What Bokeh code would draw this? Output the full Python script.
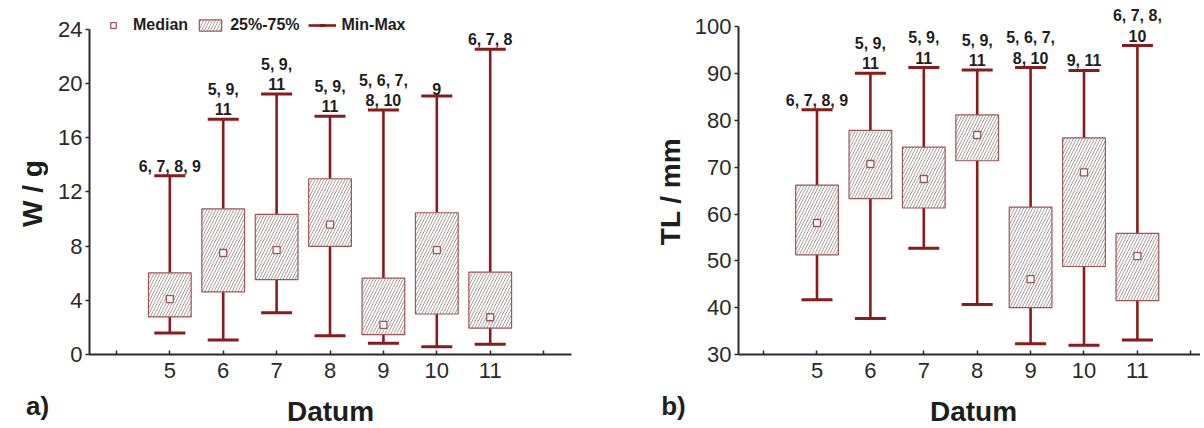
import math
from bokeh.plotting import figure
from bokeh.layouts import row, column
from bokeh.models import (ColumnDataSource, FixedTicker, Label, Legend, LegendItem,
                          Range1d)
from bokeh.core.properties import value
from bokeh.embed import file_html
from bokeh.resources import INLINE

# ---------------- data ----------------
datum = [5, 6, 7, 8, 9, 10, 11]
x_ticks = [4, 5, 6, 7, 8, 9, 10, 11, 12]

w_min = [1.58, 1.07, 3.09, 1.39, 0.83, 0.58, 0.75]
w_q1 = [2.77, 4.62, 5.52, 7.98, 1.46, 2.99, 1.95]
w_median = [4.09, 7.49, 7.71, 9.59, 2.19, 7.71, 2.75]
w_q3 = [6.03, 10.75, 10.34, 12.97, 5.64, 10.46, 6.08]
w_max = [13.19, 17.37, 19.22, 17.59, 18.05, 19.08, 22.53]
w_groups = ["6, 7, 8, 9", "5, 9,\n11", "5, 9,\n11", "5, 9,\n11",
            "5, 6, 7,\n8, 10", "9", "6, 7, 8"]
w_ticks = [0, 4, 8, 12, 16, 20, 24]

tl_min = [41.7, 37.7, 52.7, 40.7, 32.3, 32.0, 33.1]
tl_q1 = [51.3, 63.3, 61.3, 71.4, 40.0, 48.8, 41.5]
tl_median = [58.1, 70.7, 67.5, 76.9, 46.1, 68.9, 51.0]
tl_q3 = [66.2, 77.9, 74.3, 81.2, 61.5, 76.3, 55.9]
tl_max = [82.3, 90.1, 91.3, 90.8, 91.3, 90.7, 96.0]
tl_groups = ["6, 7, 8, 9", "5, 9,\n11", "5, 9,\n11", "5, 9,\n11",
             "5, 6, 7,\n8, 10", "9, 11", "6, 7, 8,\n10"]
tl_ticks = [30, 40, 50, 60, 70, 80, 90, 100]

# ---------------- style ----------------
FONT = "Liberation Sans"
WHISK = "#8B1A1A"
BOX_LINE = "#A05555"
HATCH = "#A09292"
TXT = "#1E1E1E"
AX = "#2A2A2A"
H = 390
TOP = 2
BOTTOM = 36
FRAME_H = H - TOP - BOTTOM
STRIP_H = 38
BOX_W = 0.8
CAP_PX = 31
PX_PER_X = 53.4


def blank(width, height, top, bottom):
    s = figure(width=width, height=height, output_backend="svg",
               toolbar_location=None, x_axis_type=None, y_axis_type=None,
               min_border_left=0, min_border_right=0, min_border_top=top,
               min_border_bottom=bottom, x_range=Range1d(0, 1),
               y_range=Range1d(0, 1))
    s.outline_line_color = None
    s.xgrid.grid_line_color = None
    s.ygrid.grid_line_color = None
    return s


def text_label(x, y, text, size, angle=0.0):
    return Label(x=x, y=y, x_units="screen", y_units="screen", text=text,
                 angle=angle, text_align="center", text_baseline="middle",
                 text_font=FONT, text_font_style="bold", text_font_size=size,
                 text_color=TXT)


def make_panel(width, border_left, border_right, x_start, y_start, px_per_y,
               y_bounds, y_ticks, vmin, q1, med, q3, vmax, groups, with_legend):
    frame_w = width - border_left - border_right
    p = figure(width=width, height=H, output_backend="svg", toolbar_location=None,
               x_range=Range1d(x_start, x_start + frame_w / PX_PER_X),
               y_range=Range1d(y_start, y_start + FRAME_H / px_per_y),
               min_border_left=border_left, min_border_right=border_right,
               min_border_top=TOP, min_border_bottom=BOTTOM)
    p.outline_line_color = None
    p.background_fill_color = "white"
    p.border_fill_color = "white"
    p.xgrid.grid_line_color = None
    p.ygrid.grid_line_color = None

    src = ColumnDataSource(dict(x=datum, vmin=vmin, q1=q1, med=med, q3=q3,
                                vmax=vmax, groups=groups))

    stems = p.segment(x0="x", y0="vmin", x1="x", y1="vmax", source=src,
                      line_color=WHISK, line_width=2.6)
    caps_max = p.scatter(x="x", y="vmax", source=src, marker="dash", size=CAP_PX,
                         line_color=WHISK, line_width=3)
    p.scatter(x="x", y="vmin", source=src, marker="dash", size=CAP_PX,
              line_color=WHISK, line_width=3)
    boxes = p.vbar(x="x", width=BOX_W, bottom="q1", top="q3", source=src,
                   fill_color="white", line_color=BOX_LINE, line_width=1.2,
                   hatch_pattern="/", hatch_color=HATCH, hatch_scale=6,
                   hatch_weight=0.9)
    meds = p.scatter(x="x", y="med", source=src, marker="square", size=7,
                     fill_color="white", line_color=BOX_LINE, line_width=1.3)
    p.text(x="x", y="vmax", text="groups", source=src, text_align="center",
           text_baseline="bottom", y_offset=-1, text_line_height=1.2,
           text_font=value(FONT), text_font_style="bold",
           text_font_size="16px", text_color=TXT)

    xa = p.xaxis[0]
    xa.ticker = FixedTicker(ticks=x_ticks)
    xa.major_label_overrides = {4: "", 12: ""}
    xa.major_tick_in = 4
    xa.major_tick_out = 0
    xa.minor_tick_line_color = None
    xa.major_label_standoff = 8
    ya = p.yaxis[0]
    ya.ticker = FixedTicker(ticks=y_ticks)
    ya.bounds = y_bounds
    ya.major_tick_in = 0
    ya.major_tick_out = 4
    ya.minor_tick_line_color = None
    ya.major_label_standoff = 3
    for a in (xa, ya):
        a.axis_line_color = AX
        a.axis_line_width = 2
        a.major_tick_line_color = AX
        a.major_tick_line_width = 1.5
        a.major_label_text_font = FONT
        a.major_label_text_font_size = "22px"
        a.major_label_text_color = AX

    if with_legend:
        legend = Legend(items=[
            LegendItem(label="Median", renderers=[meds]),
            LegendItem(label="25%-75%", renderers=[boxes]),
            LegendItem(label="Min-Max", renderers=[stems, caps_max]),
        ], orientation="horizontal", location=(10, 320), padding=0, margin=0,
            spacing=8, glyph_width=28, glyph_height=14, label_standoff=6,
            border_line_color=None, background_fill_alpha=0,
            label_text_font=FONT, label_text_font_style="bold",
            label_text_font_size="16px", label_text_color=TXT)
        p.add_layout(legend)
    return p


# y titles (left of each panel)
ta = blank(48, H, TOP, BOTTOM)
ta.add_layout(text_label(32, 161, "W / g", "28px", math.pi / 2))
tb = blank(84, H, TOP, BOTTOM)
tb.add_layout(text_label(64, 163, "TL / mm", "28px", math.pi / 2))

pa = make_panel(558, 41, 35, 3.496, 0, 13.55, (0, 24), w_ticks,
                w_min, w_q1, w_median, w_q3, w_max, w_groups, True)
pb = make_panel(510, 48, 0, 3.53, 30, 4.68, (30, 100), tl_ticks,
                tl_min, tl_q1, tl_median, tl_q3, tl_max, tl_groups, False)

# bottom strip: panel tags and x titles
strip = blank(1200, STRIP_H, 0, 0)
strip.add_layout(text_label(37, 23, "a)", "26px"))
strip.add_layout(text_label(330, 17, "Datum", "28px"))
strip.add_layout(text_label(673, 23, "b)", "26px"))
strip.add_layout(text_label(973, 17, "Datum", "28px"))

layout = column(row(ta, pa, tb, pb), strip)
open("out.html", "w").write(file_html(layout, INLINE))
